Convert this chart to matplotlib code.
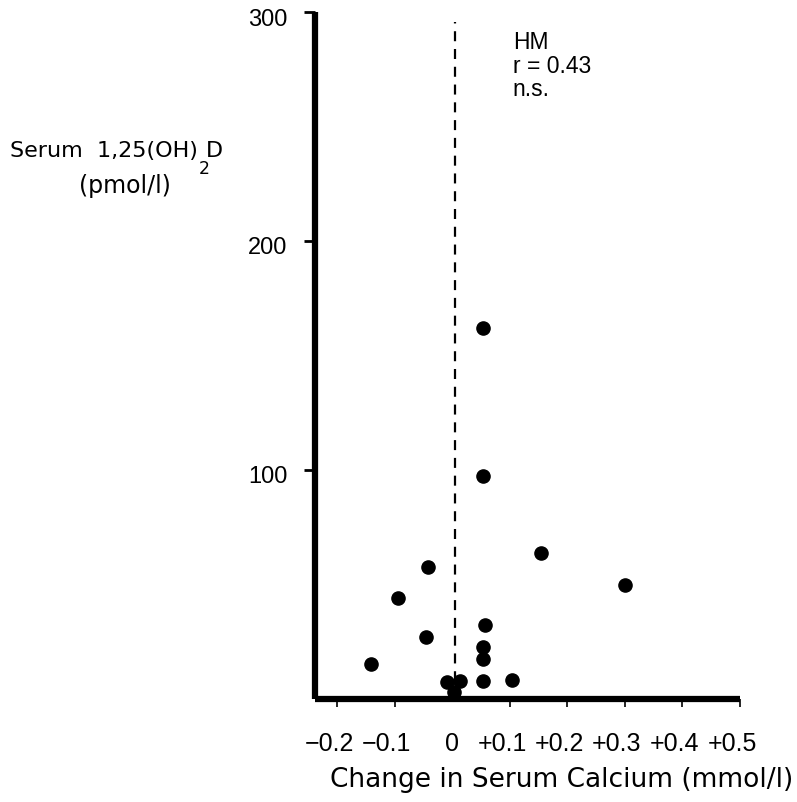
import matplotlib
matplotlib.use("Agg")
import matplotlib.pyplot as plt
from matplotlib.transforms import ScaledTranslation

plt.rcParams["font.family"] = ["Liberation Sans", "DejaVu Sans"]

# change in serum calcium (mmol/l) vs serum 1,25(OH)2D (pmol/l)
calcium_change = [0.053, 0.053, 0.154, 0.300, -0.043, -0.095, 0.057, -0.046,
                  0.053, 0.053, -0.142, -0.010, 0.013, 0.053, 0.103, 0.003]
vitamin_d = [162.0, 97.4, 63.6, 49.9, 57.8, 44.0, 32.4, 26.9,
             22.6, 17.5, 15.2, 7.3, 8.0, 8.0, 8.3, 2.9]

x_ticks = [-0.2, -0.1, 0, 0.1, 0.2, 0.3, 0.4, 0.5]
x_tick_labels = ["\u22120.2", "\u22120.1", "0", "+0.1", "+0.2", "+0.3", "+0.4", "+0.5"]
y_ticks = [100, 200, 300]

fig = plt.figure(figsize=(7.97, 8.03), dpi=100)
ax = fig.add_axes([315 / 797, 103 / 803, 425 / 797, 687 / 803])

ax.scatter(calcium_change, vitamin_d, s=90, color="black", zorder=3, clip_on=False)
ax.axvline(0.004, ymin=0, ymax=0.985, color="black", lw=1.6, linestyle=(0, (4.5, 3.5)))

ax.set_xlim(-0.239, 0.5)
ax.set_ylim(0, 300)

for side in ["top", "right"]:
    ax.spines[side].set_visible(False)
for side in ["left", "bottom"]:
    ax.spines[side].set_linewidth(4.5)
    ax.spines[side].set_capstyle("butt")

ax.set_xticks(x_ticks)
ax.set_xticklabels(x_tick_labels, fontsize=18)
ax.tick_params(axis="x", direction="out", length=6, width=1.2, pad=17)
ax.xaxis.get_major_ticks()[2].tick1line.set_visible(False)
# signed labels sit a little left of their tick in the original
for lab, txt in zip(ax.get_xticklabels(), x_tick_labels):
    if txt != "0":
        lab.set_transform(lab.get_transform() + ScaledTranslation(-0.08, 0, fig.dpi_scale_trans))

ax.set_yticks(y_ticks)
ax.set_yticklabels([str(v) for v in y_ticks], fontsize=17)
ax.tick_params(axis="y", direction="out", length=8, width=2, pad=12)
for lab in ax.get_yticklabels():
    lab.set_transform(lab.get_transform() + ScaledTranslation(0, -0.04, fig.dpi_scale_trans))

ax.text(0.105, 292, "HM\nr = 0.43\nn.s.", fontsize=16.5, va="top", ha="left",
        linespacing=1.03)

t1 = fig.text(10 / 797, 1 - 151 / 803, "Serum  1,25(OH)", fontsize=16,
              ha="left", va="center", family=["DejaVu Sans"])
ax.annotate("2", xy=(1, 0), xycoords=t1, xytext=(0.5, -6), textcoords="offset points",
            fontsize=12.5, ha="left", va="center", family=["DejaVu Sans"],
            annotation_clip=False)
ax.annotate("D", xy=(1, 0.5), xycoords=t1, xytext=(6, 0), textcoords="offset points",
            fontsize=16, ha="left", va="center", family=["DejaVu Sans"],
            annotation_clip=False)
fig.text(125 / 797, 1 - 186 / 803, "(pmol/l)", fontsize=17, ha="center", va="center",
         family=["DejaVu Sans"])
fig.text(562 / 797, 1 - 780 / 803, "Change in Serum Calcium (mmol/l)", fontsize=19,
         ha="center", va="center", family=["DejaVu Sans"])

fig.savefig("out.png", dpi=100)
